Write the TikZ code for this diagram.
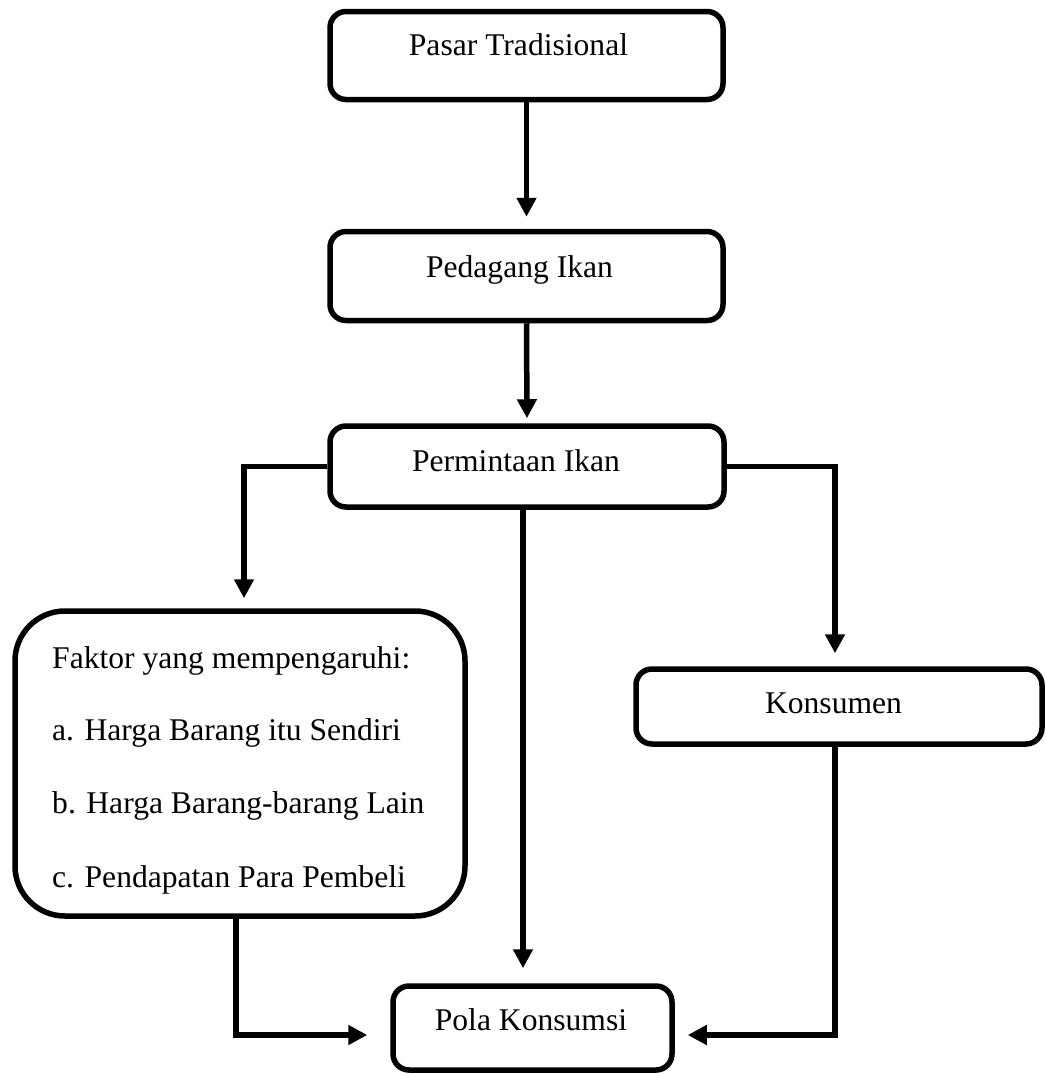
\documentclass[tikz,border=0pt]{standalone}
\usepackage{fontspec}
\setmainfont{Liberation Serif}
\usetikzlibrary{arrows.meta}
\begin{document}
\begin{tikzpicture}[x=1pt,y=-1pt,
  box/.style={draw=black, line width=5.5pt, rounded corners=16pt, inner sep=0pt,
    text height=22pt, font=\fontsize{31.6}{38}\selectfont},
  conn/.style={line width=5.5pt, -{Triangle[length=19pt,width=19pt]}},
  txt/.style={anchor=base west, inner sep=0pt, font=\fontsize{31.6}{38}\selectfont}]
\useasboundingbox (0,0) rectangle (1045,1077);
% boxes
\node[box, minimum width=393pt, minimum height=88pt, text depth=23pt] (pasar) at (526.5,55.5) {Pasar Tradisional\hspace*{16pt}};
\node[box, minimum width=393pt, minimum height=89pt, text depth=20pt] (pedagang) at (526.5,276) {Pedagang Ikan\hspace*{14pt}};
\node[box, minimum width=394pt, minimum height=81pt, text depth=13pt] (permintaan) at (527,466.5) {Permintaan Ikan\hspace*{22pt}};
\node[box, rounded corners=50pt, minimum width=450pt, minimum height=305pt] (faktor) at (240,763.5) {};
\node[box, minimum width=406pt, minimum height=75pt, text depth=9pt] (konsumen) at (839,706.5) {Konsumen\hspace*{11pt}};
\node[box, minimum width=279pt, minimum height=84pt, text depth=18pt] (pola) at (532.5,1028) {Pola Konsumsi\hspace*{3pt}};
% factor text
\node[txt] (f1) at (52,668) {Faktor yang mempengaruhi:};
\node[txt] (f2) at (52,740) {a. Harga Barang itu Sendiri};
\node[txt] (f3) at (52,813) {b. Harga Barang-barang Lain};
\node[txt] (f4) at (52,887) {c. Pendapatan Para Pembeli};
% connectors
\draw[conn, shorten >=12pt] (pasar.south) -- (pedagang.north);
\draw[conn, shorten >=5pt] (pedagang.south) -- (permintaan.north);
\draw[conn, shorten >=10pt] (permintaan.west) -| ([xshift=4pt]faktor.north);
\draw[conn, shorten >=13pt] (permintaan.east) -| ([xshift=-4pt]konsumen.north);
\draw[conn, shorten >=15pt] ([xshift=-4pt]permintaan.south) -- ([xshift=-4pt]permintaan.south |- pola.north);
\draw[conn, shorten >=23pt] ([xshift=-4pt]faktor.south) |- ([yshift=-7pt]pola.west);
\draw[conn, shorten >=13pt] ([xshift=-4pt]konsumen.south) |- ([yshift=-7pt]pola.east);
\end{tikzpicture}
\end{document}
